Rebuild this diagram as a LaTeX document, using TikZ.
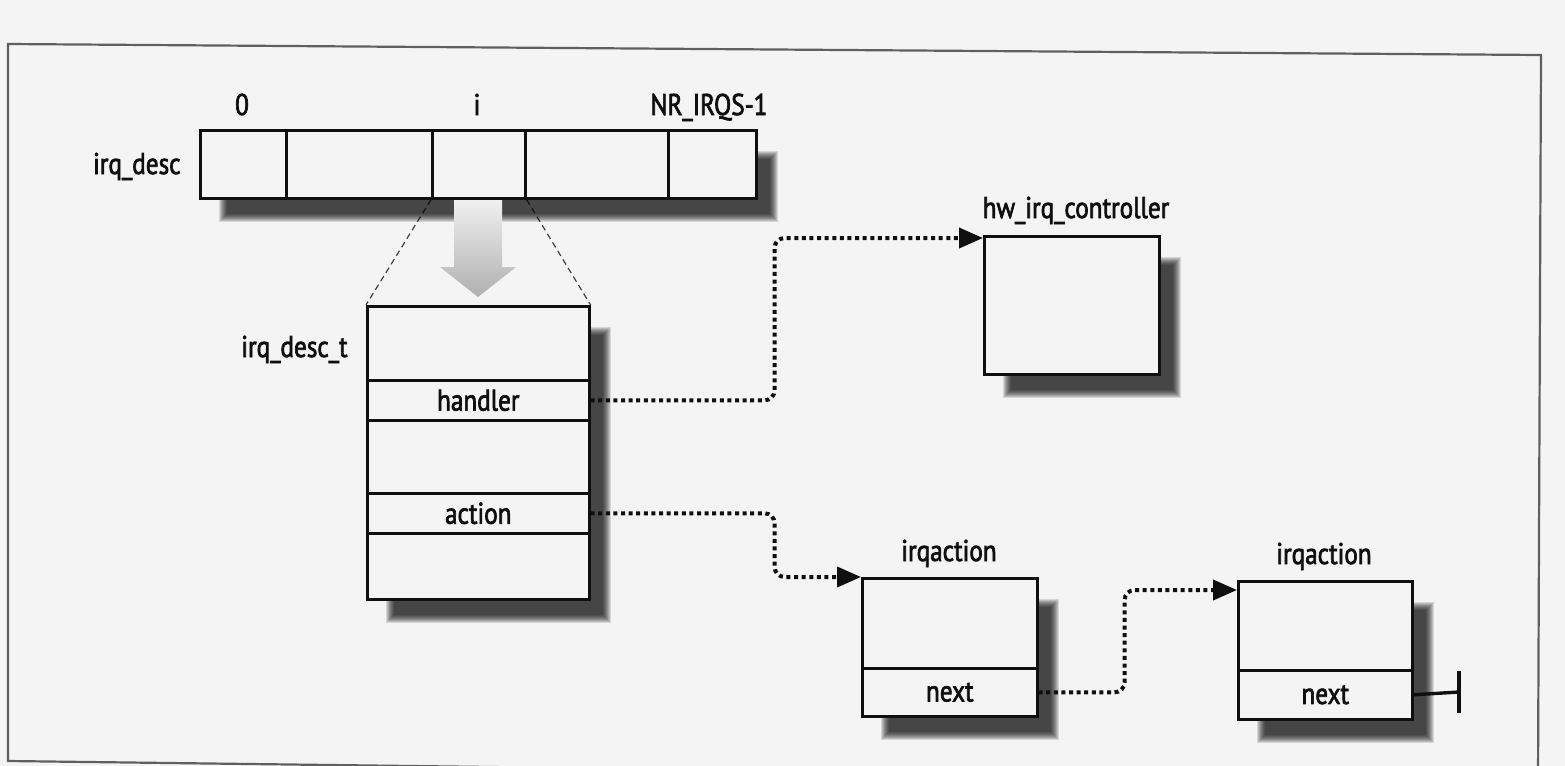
\documentclass[tikz,border=0pt]{standalone}
\usepackage{fontspec}
\setmainfont[FakeStretch=0.84,FakeBold=2.2]{PT Sans}
\usetikzlibrary{arrows.meta}
\definecolor{paper}{RGB}{244,244,244}
\definecolor{ink}{RGB}{15,15,15}
\definecolor{framegray}{RGB}{95,95,95}
\pgfdeclarelayer{back}
\pgfdeclarelayer{guides}
\pgfdeclarelayer{shade}
\pgfsetlayers{back,guides,shade,main}

% soft drop shadow under a named rectangular node
\newcommand\dropshadow[1]{%
  \begin{pgfonlayer}{shade}
    \foreach \k in {0,...,8}{%
      \fill[black, opacity=0.125]
        ([shift={(10pt+\k*0.5pt,-11pt-\k*0.5pt)}]#1.north west)
        rectangle
        ([shift={(10pt-\k*0.5pt,-11pt+\k*0.5pt)}]#1.south east);
    }%
  \end{pgfonlayer}}

\begin{document}
\begin{tikzpicture}[x=0.5pt,y=-0.5pt,
  txt/.style={font=\fontsize{15}{17}\selectfont, text=ink},
  lbl/.style={txt, inner sep=0pt},
  box/.style={txt, draw=ink, line width=1.3pt, fill=paper, inner sep=0pt, anchor=north west},
  link/.style={draw=ink, line width=2pt, dash pattern=on 2pt off 1.8pt,
      rounded corners=5pt, -{Triangle[length=12pt,width=10pt]}},
  guide/.style={draw=ink!80, line width=0.6pt, dash pattern=on 3pt off 2pt},
  nilend/.style={draw=ink, line width=1.7pt},
]
\useasboundingbox (0,0) rectangle (1565,766);
\begin{pgfonlayer}{back}
  \fill[paper] (0,0) rectangle (1565,766);
\end{pgfonlayer}

% figure frame
\draw[framegray, line width=1.1pt] (8,44) -- (1541,55) -- (1538,780) -- (8,761) -- cycle;

% the irq_desc array
\node[box, minimum width=278pt, minimum height=34pt] (arr) at (199,129) {};
\dropshadow{arr}
\node[box, minimum width=43pt,   minimum height=34pt] (c0)    at (199,129) {};
\node[box, minimum width=73pt,   minimum height=34pt] (c1)    at (285,129) {};
\node[box, minimum width=46.5pt, minimum height=34pt] (celli) at (431,129) {};
\node[box, minimum width=71.5pt, minimum height=34pt] (c3)    at (524,129) {};
\node[box, minimum width=44pt,   minimum height=34pt] (c4)    at (667,129) {};
\node[lbl, anchor=base]      (idx0) at (242,115) {0};
\node[lbl, anchor=base]      (idxi) at (477,115) {i};
\node[lbl, anchor=base]      (idxn) at (709,115) {NR\_IRQS-1};
\node[lbl, anchor=base east] (tdesc) at (181,174) {irq\_desc};

% zoom arrow from entry i
\shade[top color=gray!12, bottom color=gray!62]
  (454,200) -- (502,200) -- (502,267) -- (516,267) -- (478,297)
  -- (440,267) -- (454,267) -- cycle;

% irq_desc_t descriptor
\node[box, minimum width=111pt, minimum height=146.5pt] (desct) at (366,305) {};
\dropshadow{desct}
\node[box, minimum width=111pt, minimum height=20pt] (handler) at (366,379) {handler};
\node[box, minimum width=111pt, minimum height=20pt] (action)  at (366,492) {action};
\node[lbl, anchor=base east] (tdesct) at (348,357) {irq\_desc\_t};

% hw_irq_controller
\node[box, minimum width=87.5pt, minimum height=69pt] (hw) at (983,235) {};
\dropshadow{hw}
\node[lbl, anchor=base] (thw) at (1076,218) {hw\_irq\_controller};

% irqaction list
\node[box, minimum width=87.5pt, minimum height=69pt] (ia1) at (861,577) {};
\dropshadow{ia1}
\node[box, minimum width=87.5pt, minimum height=24pt] (next1) at (861,667) {next};
\node[lbl, anchor=base] (tia1) at (949,561) {irqaction};

\node[box, minimum width=87pt, minimum height=69pt] (ia2) at (1237,580) {};
\dropshadow{ia2}
\node[box, minimum width=87pt, minimum height=24.5pt] (next2) at (1237,669) {next};
\node[lbl, anchor=base] (tia2) at (1324,564) {irqaction};

% pointers
\draw[link] (handler.east) -- ++(184,0) |- ([yshift=-1.5pt]hw.north west);
\draw[link] (action.east) -- ++(184,0) |- (ia1.north west);
\draw[link] (next1.east) -- ++(86,0) |- ([yshift=-5pt]ia2.north west);

% end of list: null pointer
\coordinate (nil) at (1459,692);
\draw[nilend] (next2.east) -- (nil);
\draw[nilend] ([yshift=10.3pt]nil) -- ([yshift=-10.3pt]nil);

% expansion guides from entry i to the descriptor
\begin{pgfonlayer}{guides}
  \draw[guide] (celli.south west) -- (desct.north west);
  \draw[guide] (celli.south east) -- (desct.north east);
\end{pgfonlayer}
\end{tikzpicture}
\end{document}
